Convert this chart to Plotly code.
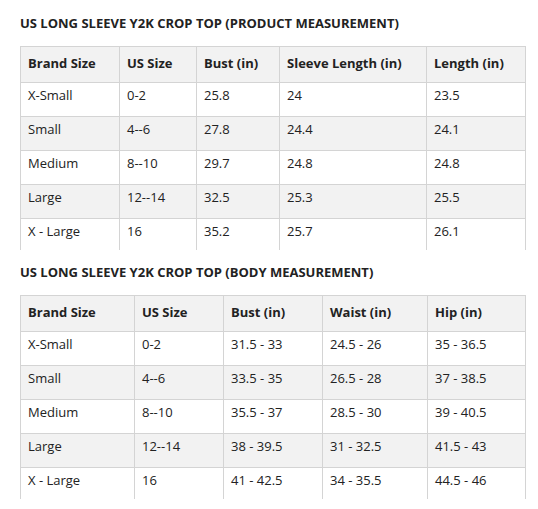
import plotly.graph_objects as go

W, H = 538, 509
OFF = 8
t1_title = "US LONG SLEEVE Y2K CROP TOP (PRODUCT MEASUREMENT)"
t1_header = ["Brand Size", "US Size", "Bust (in)", "Sleeve Length (in)", "Length (in)"]
brand = ["X-Small", "Small", "Medium", "Large", "X - Large"]
us_size = ["0-2", "4--6", "8--10", "12--14", "16"]
bust1 = ["25.8", "27.8", "29.7", "32.5", "35.2"]
sleeve = ["24", "24.4", "24.8", "25.3", "25.7"]
length = ["23.5", "24.1", "24.8", "25.5", "26.1"]

t2_title = "US LONG SLEEVE Y2K CROP TOP (BODY MEASUREMENT)"
t2_header = ["Brand Size", "US Size", "Bust (in)", "Waist (in)", "Hip (in)"]
bust2 = ["31.5 - 33", "33.5 - 35", "35.5 - 37", "38 - 39.5", "41 - 42.5"]
waist = ["24.5 - 26", "26.5 - 28", "28.5 - 30", "31 - 32.5", "34 - 35.5"]
hip = ["35 - 36.5", "37 - 38.5", "39 - 40.5", "41.5 - 43", "44.5 - 46"]

GRAY = "#f2f2f2"
LINE = "#d4d4d4"
FONT = "Open Sans"
row_fill = ["white", GRAY, "white", GRAY, "white"]

def px_y(top, bottom):
    return [1 - (bottom - OFF) / H, 1 - (top - OFF) / H]

def table(header, cols, widths, top, bottom):
    return go.Table(
        domain=dict(x=[(20 - OFF) / W, (525 - OFF) / W], y=px_y(top, bottom)),
        columnwidth=widths,
        header=dict(values=[f"<b>{h}</b>" for h in header], fill_color=GRAY,
                    line_color=LINE, align="left", height=36,
                    font=dict(family=FONT, size=13, color="#222")),
        cells=dict(values=cols, fill_color=[row_fill] * 5, line_color=LINE,
                   align="left", height=34,
                   font=dict(family=FONT, size=13, color="#222")),
    )

fig = go.Figure()
fig.add_trace(table(t1_header, [brand, us_size, bust1, sleeve, length],
                    [99, 77, 83, 147, 99], 46, 250))
fig.add_trace(table(t2_header, [brand, us_size, bust2, waist, hip],
                    [114, 89, 99, 105, 98], 295, 499))
for txt, y in [(t1_title, 23), (t2_title, 272)]:
    fig.add_annotation(text=f"<b>{txt}</b>", x=(20 - OFF - 2) / W, y=1 - (y - OFF) / H,
                       xref="paper", yref="paper", xanchor="left", yanchor="middle",
                       showarrow=False, font=dict(family=FONT, size=13, color="#222"))
fig.update_layout(width=W, height=H, margin=dict(l=0, r=0, t=0, b=0),
                  paper_bgcolor="white")
fig.write_html("out.html")
